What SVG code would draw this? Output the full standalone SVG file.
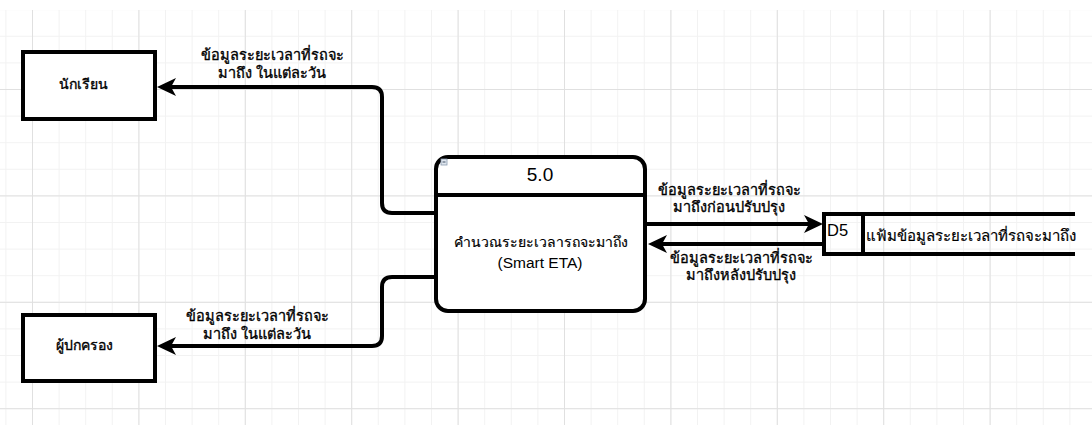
<svg xmlns="http://www.w3.org/2000/svg" width="1092" height="425" viewBox="0 0 1092 425">
  <style>
    .box { fill: #ffffff; stroke: #000000; stroke-width: 4; }
    .edge { fill: none; stroke: #000000; stroke-width: 4; }
    .th { font-family: "Liberation Sans", "DejaVu Sans", sans-serif; fill: #000000; stroke: #000000; stroke-width: 0.35; }
    .lbl { font-size: 14.5px; text-anchor: middle; }
    .name { font-size: 14px; text-anchor: middle; }
    .latin { font-family: "Liberation Sans", Arial, sans-serif; fill: #000000; }
  </style>
  <defs>
    <!-- drawing grid: light minor lines, darker line every fourth cell -->
    <pattern id="minor" x="32" y="89" width="26.6" height="26.6" patternUnits="userSpaceOnUse">
      <path d="M0,0 V26.6 M0,0 H26.6" stroke="#f2f2f2" stroke-width="2" fill="none"/>
    </pattern>
    <pattern id="major" x="32" y="89" width="106.4" height="106.4" patternUnits="userSpaceOnUse">
      <path d="M0,0 V106.4 M0,0 H106.4" stroke="#e0e0e0" stroke-width="2" fill="none"/>
    </pattern>
    <marker id="arrow" viewBox="-1 -10 22 20" refX="5" refY="0" markerWidth="22" markerHeight="20" markerUnits="userSpaceOnUse" orient="auto">
      <path d="M0,-9 L19,0 L0,9 L5,0 Z" fill="#000000"/>
    </marker>
  </defs>

  <rect width="1092" height="425" fill="#ffffff"/>
  <rect x="0" y="10" width="1092" height="415" fill="url(#minor)"/>
  <rect x="0" y="10" width="1092" height="415" fill="url(#major)"/>

  <!-- connectors -->
  <g id="connectors">
    <path class="edge" marker-end="url(#arrow)" d="M434,213 H392 Q382,213 382,203 V97 Q382,87 372,87 H171"/>
    <path class="edge" marker-end="url(#arrow)" d="M434,277 H392 Q382,277 382,287 V336 Q382,346 372,346 H171"/>
    <path class="edge" marker-end="url(#arrow)" d="M647,224 H809"/>
    <path class="edge" marker-end="url(#arrow)" d="M823,244 H662"/>
    <text class="th lbl" x="272" y="60">ข้อมูลระยะเวลาที่รถจะ</text>
    <text class="th lbl" x="272" y="78">มาถึง ในแต่ละวัน</text>
    <text class="th lbl" x="257" y="321">ข้อมูลระยะเวลาที่รถจะ</text>
    <text class="th lbl" x="257" y="339">มาถึง ในแต่ละวัน</text>
    <text class="th lbl" x="729" y="195">ข้อมูลระยะเวลาที่รถจะ</text>
    <text class="th lbl" x="729" y="212">มาถึงก่อนปรับปรุง</text>
    <text class="th lbl" x="741" y="263">ข้อมูลระยะเวลาที่รถจะ</text>
    <text class="th lbl" x="741" y="280">มาถึงหลังปรับปรุง</text>
  </g>

  <!-- external entity: students -->
  <g id="student">
    <rect class="box" x="23" y="52" width="132" height="67"/>
    <text class="th name" x="83" y="89">นักเรียน</text>
  </g>

  <!-- external entity: parents -->
  <g id="parent">
    <rect class="box" x="23" y="315" width="132" height="66"/>
    <text class="th name" x="84" y="350">ผู้ปกครอง</text>
  </g>

  <!-- process 5.0 -->
  <g id="process-5">
    <rect class="box" x="436" y="157" width="209" height="154" rx="12" ry="12"/>
    <line x1="436" y1="195" x2="645" y2="195" stroke="#000000" stroke-width="4"/>
    <rect x="441" y="159" width="6" height="6" fill="#dfe6ee" stroke="#8a9bb0" stroke-width="0.8"/>
    <line x1="442.5" y1="162" x2="445.5" y2="162" stroke="#44556a" stroke-width="1"/>
    <text class="latin" x="540" y="181" font-size="19" text-anchor="middle">5.0</text>
    <text class="th name" x="541" y="247" style="stroke-width:0.2">คำนวณระยะเวลารถจะมาถึง</text>
    <text class="latin" x="540" y="268" font-size="15.5" text-anchor="middle">(Smart ETA)</text>
  </g>

  <!-- data store D5 -->
  <g id="store-d5">
    <path fill="none" stroke="#000000" stroke-width="4" d="M1075,214 H824 V254 H1075 M863,214 V254"/>
    <text class="latin" x="827" y="236" font-size="16.5">D5</text>
    <text class="th" x="866" y="241" font-size="15" style="stroke-width:0.2">แฟ้มข้อมูลระยะเวลาที่รถจะมาถึง</text>
  </g>
</svg>
